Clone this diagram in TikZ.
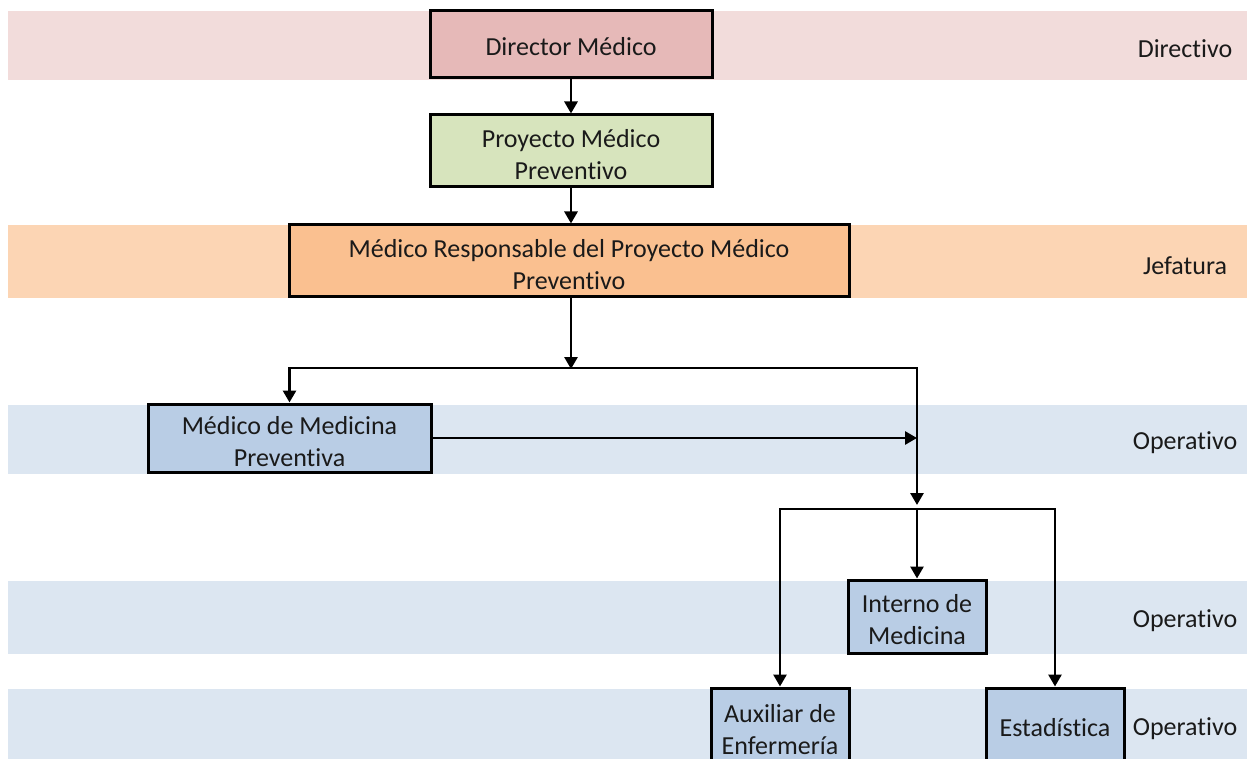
\documentclass[tikz,border=0pt]{standalone}
\usepackage{fontspec}
\setmainfont{Carlito}[Ligatures={NoCommon,NoContextual}]
\usetikzlibrary{arrows.meta}

\definecolor{bandRed}{HTML}{F2DCDB}
\definecolor{bandOrange}{HTML}{FCD5B4}
\definecolor{bandBlue}{HTML}{DCE6F1}
\definecolor{boxRed}{HTML}{E6B9B8}
\definecolor{boxGreen}{HTML}{D7E4BD}
\definecolor{boxOrange}{HTML}{FAC090}
\definecolor{boxBlue}{HTML}{B9CDE5}
\definecolor{ink}{HTML}{1A1A1A}

% two centred lines, drawn a little below the box centre
\newcommand\twolines[2]{%
  \raisebox{-6pt}[\height][\depth]{%
    \begin{tabular}{@{}c@{}}#1\\#2\end{tabular}}}
% one line, nudged down slightly
\newcommand\oneline[1]{\raisebox{-2pt}[\height][\depth]{#1}}

\tikzset{
  txt/.style={font=\fontsize{26}{32}\selectfont, text=ink},
  unit/.style={txt, draw=black, line width=3pt, inner sep=0pt},
  level/.style={txt, anchor=center},
  link/.style={line width=2.8pt, draw=black},
  arr/.style={link, -{Triangle[width=13pt,length=12pt]}},
}

\begin{document}
\begin{tikzpicture}[x=1pt,y=-1pt]
  \clip (0,0) rectangle (1253,759);
  \fill[white] (0,0) rectangle (1253,759);

  % level bands
  \fill[bandRed]    (8,11.5) rectangle (1247,80);
  \fill[bandOrange] (8,225)  rectangle (1247,298);
  \fill[bandBlue]   (8,405)  rectangle (1247,474);
  \fill[bandBlue]   (8,581)  rectangle (1247,654);
  \fill[bandBlue]   (8,689)  rectangle (1247,765);

  % level names
  \node[level] (lv1) at (1185,47)  {\oneline{Directivo}};
  \node[level] (lv2) at (1185,264) {\oneline{Jefatura}};
  \node[level] (lv3) at (1185,441) {\oneline{Operativo}};
  \node[level] (lv4) at (1185,619) {\oneline{Operativo}};
  \node[level] (lv5) at (1185,727) {\oneline{Operativo}};

  % units
  \node[unit, fill=boxRed, minimum width=282pt, minimum height=67pt]
    (dir) at (571,44.5) {\oneline{Director Médico}};
  \node[unit, fill=boxGreen, minimum width=282pt, minimum height=72pt]
    (proy) at (571,151) {\twolines{Proyecto Médico}{Preventivo}};
  \node[unit, fill=boxOrange, minimum width=560pt, minimum height=72pt]
    (resp) at (569,261) {\twolines{Médico Responsable del Proyecto Médico}{Preventivo}};
  \node[unit, fill=boxBlue, minimum width=283pt, minimum height=68pt]
    (mmp) at (289.5,438) {\twolines{Médico de Medicina}{Preventiva}};
  \node[unit, fill=boxBlue, minimum width=138pt, minimum height=73pt]
    (int) at (917,616.5) {\twolines{Interno de}{Medicina}};
  \node[unit, fill=boxBlue, minimum width=138pt, minimum height=76pt]
    (aux) at (780,726) {\twolines{Auxiliar de}{Enfermería}};
  \node[unit, fill=boxBlue, minimum width=138pt, minimum height=76pt]
    (est) at (1055,726) {\oneline{Estadística}};

  % junction points
  \coordinate (bus1) at (571,368);
  \coordinate (drop1) at (917,505);
  \coordinate (bus2) at (917,509);

  % connectors
  \draw[arr] (dir.south) -- (proy.north);
  \draw[arr] (proy.south) -- (proy.south |- resp.north);
  \draw[arr] (resp.south -| bus1) -- ([yshift=-1pt]bus1);
  \draw[arr] (bus1) -| (mmp.north);
  \draw[arr] (bus1) -| (drop1);
  \draw[arr] (mmp.east) -- (mmp.east -| drop1);
  \draw[arr] (bus2) -- (int.north);
  \draw[arr] (bus2) -| (aux.north);
  \draw[arr] (bus2) -| (est.north);
\end{tikzpicture}
\end{document}
